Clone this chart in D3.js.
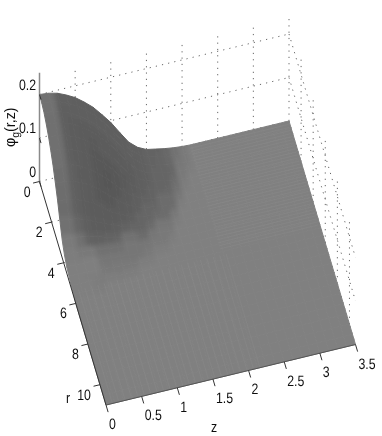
<!DOCTYPE html>
<html>
<head>
<meta charset="utf-8">
<script src="https://cdnjs.cloudflare.com/ajax/libs/d3/7.8.5/d3.min.js"></script>
<style>
  html, body { margin: 0; padding: 0; background: #fff; }
  svg { display: block; }
  text { font-family: "Liberation Sans", Arial, sans-serif; font-size: 15px; fill: #111; text-rendering: geometricPrecision; }
</style>
</head>
<body>
<div id="chart"></div>
<script>
// Surface samples
const zValues = d3.range(0, 29).map(d => d * 0.125);
const rValues = d3.range(0, 17).map(d => d * 0.375).concat([6.5, 7, 7.5, 8, 8.5, 9, 9.5, 10, 10.5, 11]);
// phi in thousandths, rows are r, columns are z. Anything past the table is flat 0.
const phiRows = [
  [200,198,193,184,173,158,141,119,96,68,41,24,14,10,6,3,1],
  [198,196,191,182,171,156,139,117,94,66,40,24,14,10,6,3,1],
  [193,191,185,177,166,151,134,113,89,62,38,22,13,9,6,3,1],
  [184,182,177,169,158,144,125,105,81,55,33,20,13,9,5,2,1],
  [173,171,166,158,147,132,114,94,70,45,28,17,11,8,4,1,0],
  [158,156,151,144,132,117,100,79,56,36,22,14,10,6,3,1,0],
  [141,139,134,125,114,100,82,62,41,27,17,12,8,5,2,0,0],
  [119,117,113,105,94,79,62,44,30,20,13,10,6,4,1,0,0],
  [96,94,89,81,70,56,41,30,21,14,11,8,5,2,0,0,0],
  [68,66,62,55,45,36,27,20,14,11,8,5,3,1,0,0,0],
  [41,40,38,33,28,22,17,13,11,8,5,3,2,0,0,0,0],
  [24,24,22,20,17,14,12,10,8,5,3,2,1,0,0,0,0],
  [14,14,13,13,11,10,8,6,5,3,2,1,0,0,0,0,0],
  [10,10,9,9,8,6,5,4,2,1,0,0,0,0,0,0,0],
  [6,6,6,5,4,3,2,1,0,0,0,0,0,0,0,0,0],
  [3,3,3,2,1,1,0,0,0,0,0,0,0,0,0,0,0],
  [0,0,0,0,0,0,0,0,0,0,0,0,0,0,0,0,0]
];

const zTicks = [0, 0.5, 1, 1.5, 2, 2.5, 3, 3.5];
const rTicks = [0, 2, 4, 6, 8, 10];
const phiTicks = [0, 0.1, 0.2];

const width = 382;
const height = 436;
const origin = { x: 39.5, y: 181.5 };

// One scale per screen component of each data axis
const zX = d3.scaleLinear().domain([0, 3.5]).range([0, 249.5]);
const zY = d3.scaleLinear().domain([0, 3.5]).range([0, -60.5]);
const rX = d3.scaleLinear().domain([0, 11]).range([0, 66.5]);
const rY = d3.scaleLinear().domain([0, 11]).range([0, 223.5]);
const phiY = d3.scaleLinear().domain([0, 0.1]).range([0, -43.5]);

const project = (r, z, phi) => [
  origin.x + rX(r) + zX(z),
  origin.y + rY(r) + zY(z) + phiY(phi)
];

// Grey level from the fall along z, with a crescent where r falls as well
const shade = d3.scaleLinear()
  .domain([0, 1.5, 3, 5, 15])
  .range([128, 119, 103, 97, 96])
  .clamp(true);
const grey = (dz, dr) => {
  const v = Math.round(shade(Math.hypot(dz, 0.05 * dr)) - 0.5 * Math.min(Math.abs(dz), Math.abs(dr)));
  return d3.rgb(v, v, v).formatHex();
};

const phiAt = (j, k) => {
  const row = phiRows[j];
  return row && row[k] !== undefined ? row[k] / 1000 : 0;
};

const cells = [];
rValues.slice(0, -1).forEach((r, j) => {
  for (let k = zValues.length - 2; k >= 0; k--) {
    const p00 = phiAt(j, k), p01 = phiAt(j, k + 1), p10 = phiAt(j + 1, k), p11 = phiAt(j + 1, k + 1);
    const dz = ((p01 - p00) + (p11 - p10)) / 2 * 1000;
    const dr = ((p10 - p00) + (p11 - p01)) / 2 * 1000 * (0.375 / (rValues[j + 1] - r));
    cells.push({
      corners: [
        project(r, zValues[k], p00),
        project(r, zValues[k + 1], p01),
        project(rValues[j + 1], zValues[k + 1], p11),
        project(rValues[j + 1], zValues[k], p10)
      ],
      color: grey(dz, dr)
    });
  }
});

const svg = d3.select('#chart').append('svg')
  .attr('width', width)
  .attr('height', height);

const defs = svg.append('defs');

// Smooth inside the surface but keep its outline
const soft = defs.append('filter').attr('id', 'soft')
  .attr('x', '-5%').attr('y', '-5%').attr('width', '110%').attr('height', '110%');
soft.append('feMorphology').attr('in', 'SourceGraphic')
  .attr('operator', 'dilate').attr('radius', 4).attr('result', 'fat');
soft.append('feGaussianBlur').attr('in', 'fat')
  .attr('stdDeviation', 2).attr('result', 'smooth');
soft.append('feComposite').attr('in', 'smooth').attr('in2', 'SourceAlpha')
  .attr('operator', 'in').attr('result', 'clipped');
soft.append('feGaussianBlur').attr('in', 'clipped').attr('stdDeviation', 0.4);

defs.append('filter').attr('id', 'softer')
  .append('feGaussianBlur').attr('stdDeviation', 0.3);

const line = d3.line();

// Grid on the two back walls
const grid = svg.append('g')
  .attr('fill', 'none')
  .attr('stroke', '#666')
  .attr('stroke-dasharray', '1.2 5.1');

const zMax = zTicks[zTicks.length - 1];
const rMax = rValues[rValues.length - 1];
const phiTop = 0.24;

zTicks.slice(1).forEach(z => {
  grid.append('path').attr('d', line([project(0, z, 0), project(0, z, phiTop)]));
});
rTicks.slice(1).forEach(r => {
  grid.append('path').attr('d', line([project(r, zMax, 0), project(r, zMax, phiTop)]));
  grid.append('path').attr('d', line([project(r, 0, 0), project(r, zMax, 0)]));
});
phiTicks.forEach(p => {
  grid.append('path').attr('d', line([project(0, 0, p), project(0, zMax, p)]));
  grid.append('path').attr('d', line([project(0, zMax, p), project(rMax, zMax, p)]));
});

// Surface, far cells first
svg.append('g')
  .attr('filter', 'url(#soft)')
  .selectAll('path')
  .data(cells)
  .join('path')
  .attr('d', d => line(d.corners) + 'Z')
  .attr('fill', d => d.color)
  .attr('stroke', d => d.color)
  .attr('stroke-width', 1);

// Faint mesh stripes on the flat part of the surface
const stripes = svg.append('g')
  .attr('filter', 'url(#softer)')
  .attr('stroke', '#8c8c8c')
  .attr('stroke-opacity', 0.4);
d3.range(0.09, 2.2, 0.09).forEach(z => {
  stripes.append('path').attr('d', line([project(5.4, z, 0), project(rMax - 0.05, z, 0)]));
});
d3.range(0.15, 5.2, 0.15).forEach(r => {
  stripes.append('path').attr('d', line([project(r, 2.1, 0), project(r, zMax - 0.02, 0)]));
});

// Axes
const axes = svg.append('g').attr('filter', 'url(#softer)');

axes.append('path')
  .attr('d', line([project(0, 0, 0), project(0, 0, 0.25)]))
  .attr('stroke', '#8a8a8a')
  .attr('stroke-width', 1.5);
axes.append('path')
  .attr('d', line([project(0, 0, 0), project(rMax, 0, 0)]))
  .attr('stroke', '#333');
axes.append('path')
  .attr('d', line([project(rMax, 0, 0), project(rMax, zMax, 0)]))
  .attr('stroke', '#555');

const tickLine = (a, b) => axes.append('path')
  .attr('d', line([a, b]))
  .attr('stroke', '#333');

const label = (x, y, anchor, str) => axes.append('text')
  .attr('transform', `translate(${x},${y}) scale(0.82,1)`)
  .attr('text-anchor', anchor)
  .text(str);

zTicks.forEach(z => {
  const [x, y] = project(rMax, z, 0);
  tickLine([x, y], project(rMax + 0.35, z, 0));
  label(x + 3, y + 24, 'start', z);
});
rTicks.forEach(r => {
  const [x, y] = project(r, 0, 0);
  tickLine([x, y], project(r, -0.09, 0));
  label(x - 9, y + 15, 'end', r);
});
phiTicks.forEach(p => {
  const [x, y] = project(0, 0, p);
  tickLine([x, y], project(0.25, 0, p));
  label(36, y - 5, 'end', p);
});

label(68, 403, 'middle', 'r');
label(214, 432, 'middle', 'z');

const yLabel = axes.append('text')
  .attr('transform', 'translate(14.5,147) rotate(-90) scale(0.95,1)');
yLabel.append('tspan').text('φ');
yLabel.append('tspan').attr('dy', 4).attr('font-size', 11).text('g');
yLabel.append('tspan').attr('dy', -4).text('(r,z)');
</script>
</body>
</html>
